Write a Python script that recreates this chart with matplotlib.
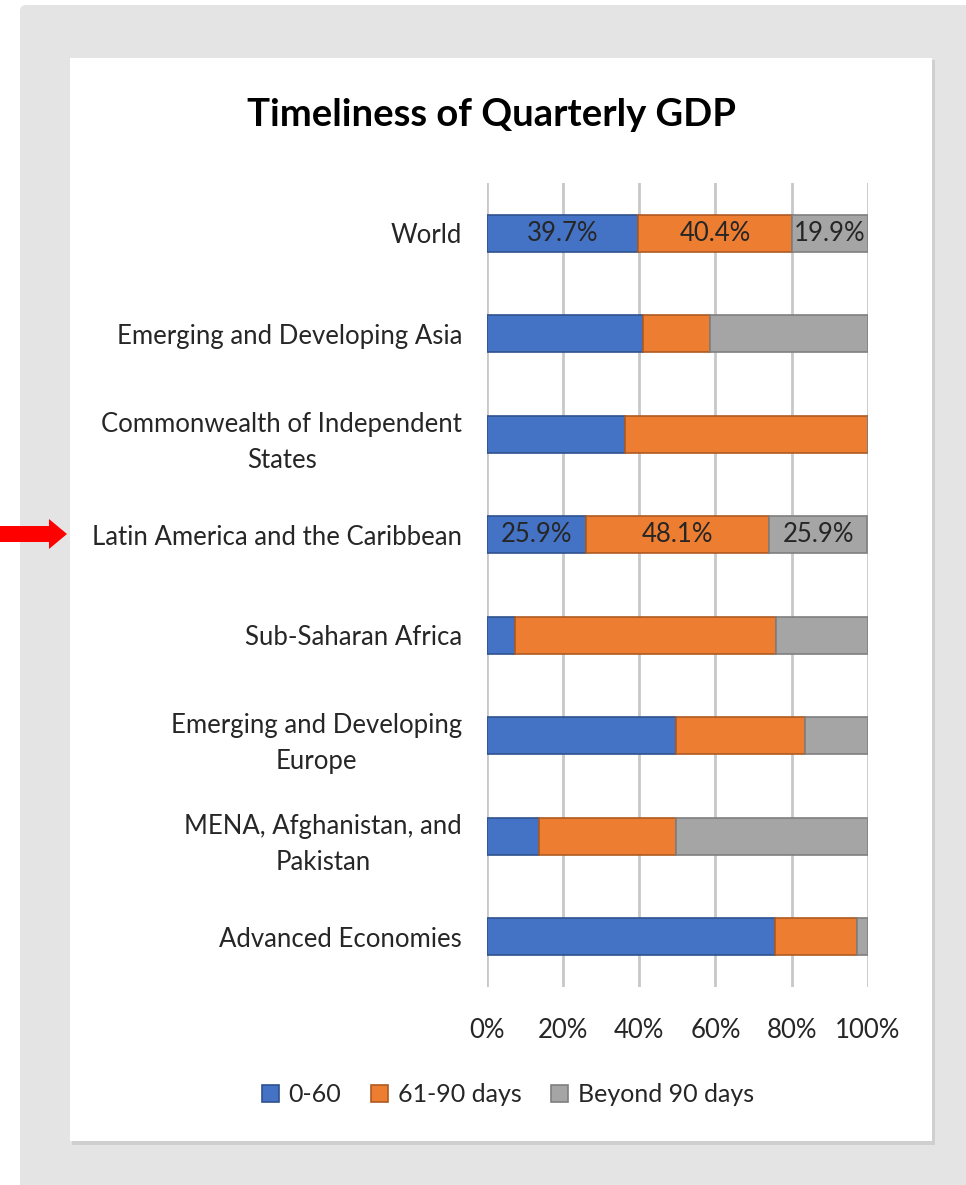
import matplotlib.pyplot as plt
import matplotlib.patches as mpatches
import numpy as np

plt.rcParams['font.family'] = ['Lato', 'DejaVu Sans']

# data (shares, in %)
regions = ['World', 'Emerging and Developing Asia', 'Commonwealth of Independent\nStates',
           'Latin America and the Caribbean', 'Sub-Saharan Africa',
           'Emerging and Developing\nEurope', 'MENA, Afghanistan, and\nPakistan',
           'Advanced Economies']
d0_60 = [39.7, 40.9, 36.2, 25.9, 7.4, 49.6, 13.7, 75.6]
d61_90 = [40.4, 17.7, 63.8, 48.1, 68.6, 33.8, 35.9, 21.6]
beyond90 = [19.9, 41.4, 0.0, 25.9, 24.0, 16.6, 50.4, 2.8]
series = ['0-60', '61-90 days', 'Beyond 90 days']
labelled = ['World', 'Latin America and the Caribbean']

colors = ['#4472C4', '#ED7D31', '#A5A5A5']
edges = ['#2F528F', '#AE5A21', '#7F7F7F']

W, H = 966, 1185
fig = plt.figure(figsize=(W / 100, H / 100), dpi=100)
fig.patch.set_facecolor('white')

# background frame (pixel coords)
bg = fig.add_axes([0, 0, 1, 1], zorder=-1)
bg.set_xlim(0, W)
bg.set_ylim(H, 0)
bg.axis('off')
bg.add_patch(mpatches.FancyBboxPatch((20, 5), W, H, boxstyle='round,pad=0,rounding_size=6',
                                     fc='#e4e4e4', ec='none'))
bg.add_patch(mpatches.Rectangle((72, 60), 863, 1085, fc='#cfcfcf', ec='none'))
bg.add_patch(mpatches.Rectangle((70, 58), 862, 1083, fc='white', ec='none'))
bg.add_patch(mpatches.FancyArrow(0, 534, 49, 0, width=16, head_width=30, head_length=18,
                                 length_includes_head=False, fc='#ff0000', ec='none'))

ax = fig.add_axes([487 / W, 1 - 987 / H, (867.7 - 487) / W, (987 - 183) / H])
y = np.arange(len(regions))
vals = [np.array(d0_60), np.array(d61_90), np.array(beyond90)]
left = np.zeros(len(regions))
for v, name, c, e in zip(vals, series, colors, edges):
    bars = ax.barh(y, v / 100, left=left, height=0.37, color=c, edgecolor=e,
                   linewidth=1.2, label=name, zorder=3)
    for i, b in enumerate(bars):
        if regions[i] in labelled:
            ax.text(left[i] + v[i] / 200, y[i], f'{v[i]:.1f}%', ha='center', va='center',
                    fontsize=18.5, color='#262626', zorder=4)
    left = left + v / 100

ax.set_xlim(0, 1)
ax.set_ylim(len(regions) - 0.5, -0.5)
ax.set_xticks(np.linspace(0, 1, 6))
ax.set_xticklabels([f'{int(t)}%' for t in np.linspace(0, 100, 6)])
ax.set_yticks(y)
ax.set_yticklabels(regions, multialignment='center', linespacing=1.55)
ax.tick_params(axis='both', length=0, labelsize=18.5, labelcolor='#262626')
ax.tick_params(axis='y', pad=18)
ax.tick_params(axis='x', pad=22)
ax.grid(axis='x', color='#c8c8c8', linewidth=2, zorder=0)
for s in ax.spines.values():
    s.set_visible(False)
ax.set_facecolor('none')

fig.text(491 / W, 1 - 115 / H, 'Timeliness of Quarterly GDP', ha='center', va='center',
         fontsize=27.5, fontweight='bold', color='black')

fig.legend(loc='center', bbox_to_anchor=(508 / W, 1 - 1095 / H), ncol=3, frameon=False,
           fontsize=18, handlelength=0.65, handleheight=0.65, handletextpad=0.4,
           columnspacing=1.2, labelcolor='#262626')

fig.savefig('out.png', dpi=100)
